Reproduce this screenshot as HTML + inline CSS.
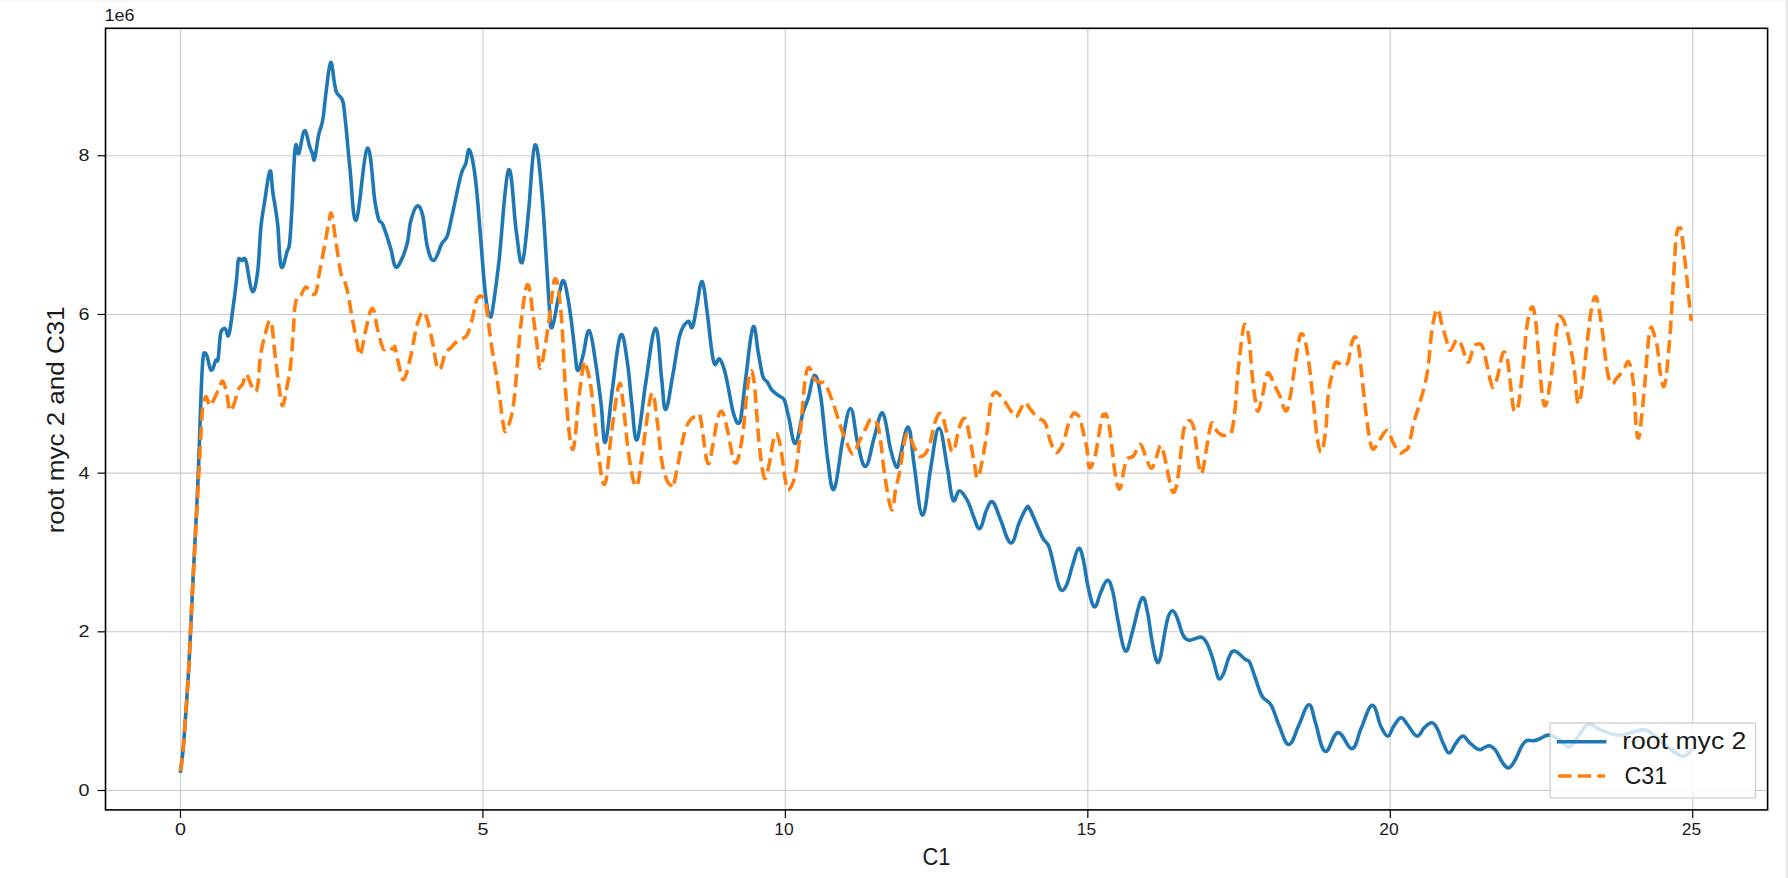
<!DOCTYPE html>
<html><head><meta charset="utf-8"><style>
html,body{margin:0;padding:0;background:#fff;width:1788px;height:878px;overflow:hidden}
svg{display:block}
text{font-family:"Liberation Sans",sans-serif;fill:#1a1a1a}
</style></head><body>
<svg width="1788" height="878" viewBox="0 0 1788 878">
<rect x="0" y="0" width="1788" height="878" fill="#fff"/>
<defs><linearGradient id="rg" x1="0" x2="1" y1="0" y2="0"><stop offset="0" stop-color="#fcfcfc"/><stop offset="0.55" stop-color="#efefef"/><stop offset="1" stop-color="#dcdcdc"/></linearGradient></defs>
<rect x="0" y="0" width="1788" height="1.1" fill="#f4f4f4"/>
<rect x="1784.4" y="0" width="3.6" height="878" fill="url(#rg)"/>

<g stroke="#cbcbcb" stroke-width="1.1"><line x1="180.50" y1="28.3" x2="180.50" y2="809.9"/><line x1="482.94" y1="28.3" x2="482.94" y2="809.9"/><line x1="785.38" y1="28.3" x2="785.38" y2="809.9"/><line x1="1087.82" y1="28.3" x2="1087.82" y2="809.9"/><line x1="1390.26" y1="28.3" x2="1390.26" y2="809.9"/><line x1="1692.70" y1="28.3" x2="1692.70" y2="809.9"/><line x1="105.5" y1="790.50" x2="1767.6" y2="790.50"/><line x1="105.5" y1="631.82" x2="1767.6" y2="631.82"/><line x1="105.5" y1="473.14" x2="1767.6" y2="473.14"/><line x1="105.5" y1="314.46" x2="1767.6" y2="314.46"/><line x1="105.5" y1="155.78" x2="1767.6" y2="155.78"/></g>
<path d="M180.5,771.0C181.0,766.7 182.2,760.8 183.5,745.0C184.8,729.2 187.1,695.5 188.3,676.0C189.5,656.5 189.9,644.0 190.7,628.0C191.5,612.0 191.8,604.7 193.0,580.0C194.2,555.3 196.5,515.1 198.0,480.0C199.5,444.9 200.9,390.4 202.2,369.3C203.5,348.2 204.0,353.2 205.8,353.4C207.6,353.6 209.0,368.7 211.0,370.1C213.0,371.5 214.5,362.4 215.7,360.5C216.9,358.6 217.3,363.3 218.1,358.9C218.9,354.5 219.6,339.2 220.5,334.2C221.4,329.1 222.6,329.4 223.7,328.6C224.8,327.8 225.2,328.9 226.0,330.0C226.8,331.1 227.5,338.6 228.8,335.0C230.1,331.4 231.2,321.1 232.5,311.9C233.8,302.7 235.6,288.3 236.5,280.0C237.4,271.7 237.5,265.6 238.0,262.0C238.5,258.4 238.7,258.8 239.5,258.5C240.3,258.2 240.8,260.5 241.8,260.5C242.8,260.5 243.4,258.0 244.3,258.5C245.2,259.0 245.2,257.5 246.5,263.0C247.8,268.5 250.2,289.7 252.4,291.4C254.6,293.1 256.3,282.3 257.7,271.6C259.1,260.9 259.7,238.9 260.9,227.0C262.1,215.1 263.4,209.2 264.9,199.9C266.4,190.6 268.4,172.6 270.0,171.0C271.6,169.4 271.5,183.1 272.8,191.9C274.1,200.7 276.2,211.4 277.6,223.8C279.0,236.2 279.2,261.1 281.1,266.5C283.0,271.9 285.8,254.9 287.2,251.0C288.6,247.1 288.8,250.2 289.6,243.0C290.4,235.8 291.1,223.6 292.0,207.8C292.9,192.0 293.8,158.9 295.2,148.0C296.6,137.1 297.1,156.6 298.9,153.2C300.7,149.8 302.2,132.0 304.4,130.8C306.6,129.6 308.4,143.2 309.8,147.0C311.2,150.8 311.8,151.9 312.6,153.9C313.4,155.9 313.4,162.8 314.6,159.0C315.8,155.2 317.3,141.2 318.7,134.7C320.1,128.1 321.6,127.0 322.8,119.7C324.1,112.4 324.9,100.5 326.2,91.0C327.5,81.5 329.0,64.1 330.6,62.5C332.2,60.9 333.4,77.8 334.4,82.8C335.4,87.8 335.5,90.0 336.5,92.4C337.5,94.8 339.5,95.4 340.6,97.2C341.7,99.0 342.4,98.4 343.3,103.3C344.2,108.2 344.9,115.4 346.0,126.5C347.1,137.6 348.4,154.4 350.1,170.0C351.8,185.6 352.9,224.3 356.3,220.0C359.7,215.7 363.5,152.3 367.2,148.4C370.9,144.5 372.9,188.7 374.8,200.6C376.7,212.5 377.5,215.7 378.8,219.7C380.1,223.7 380.8,219.7 382.8,224.5C384.8,229.3 388.6,241.4 390.7,248.5C392.8,255.6 393.3,264.7 395.5,266.8C397.7,268.9 399.9,262.9 401.9,258.8C403.9,254.7 406.0,248.3 407.5,242.1C409.0,235.8 409.1,227.3 410.7,221.3C412.3,215.3 414.6,207.5 417.0,206.2C419.4,204.9 420.9,208.2 422.6,215.0C424.3,221.8 425.5,239.3 427.4,246.9C429.3,254.5 430.9,261.0 433.8,260.4C436.7,259.8 439.5,247.8 441.8,243.7C444.1,239.6 445.5,241.0 447.4,235.7C449.2,230.4 450.6,221.9 452.9,211.8C455.1,201.7 458.8,183.1 460.9,175.1C463.0,167.1 464.2,168.0 465.7,163.9C467.2,159.8 467.6,146.2 469.7,150.4C471.8,154.6 473.7,163.1 476.1,184.7C478.5,206.3 482.1,259.3 484.0,280.0C485.9,300.7 486.5,302.9 487.5,309.0C488.5,315.1 489.0,316.3 490.0,316.5C491.0,316.7 491.0,319.2 492.5,310.0C494.0,300.8 496.3,284.5 499.0,261.2C501.7,237.9 505.1,176.5 508.5,170.1C511.9,163.7 513.7,213.9 516.0,229.3C518.3,244.7 519.7,266.0 522.2,262.4C524.7,258.8 526.5,230.7 528.6,211.1C530.7,191.5 532.3,147.7 535.0,145.0C537.7,142.3 539.9,171.2 542.2,197.4C544.5,223.6 547.4,280.5 549.0,302.2C550.6,323.9 550.0,329.1 552.0,327.5C554.0,325.9 557.1,301.8 559.1,294.2C561.1,286.6 561.8,277.5 564.1,281.6C566.4,285.7 568.7,302.7 570.5,314.7C572.3,326.7 573.9,344.1 575.1,353.4C576.3,362.7 576.2,370.0 577.8,370.5C579.4,371.0 581.1,362.3 583.0,355.7C584.9,349.1 586.7,329.2 589.2,330.6C591.7,332.0 593.6,350.0 595.6,362.5C597.6,375.0 599.7,392.6 601.3,405.8C602.9,419.1 603.1,445.6 605.4,442.0C607.7,438.4 610.1,405.4 612.6,387.6C615.1,369.8 617.6,340.2 620.6,335.2C623.6,330.2 625.5,350.7 627.4,362.5C629.3,374.3 630.4,393.0 632.0,405.8C633.6,418.6 634.5,444.1 637.2,439.5C639.9,434.9 642.7,401.5 645.7,383.0C648.8,364.5 652.3,329.2 655.5,328.3C658.7,327.4 659.9,365.0 661.6,378.5C663.3,392.0 663.4,410.4 665.7,409.5C668.0,408.6 670.6,386.3 673.0,373.9C675.4,361.5 677.3,343.9 679.8,335.2C682.3,326.5 685.3,323.1 687.8,321.5C690.3,319.9 690.6,330.4 692.4,327.2C694.2,324.0 695.3,313.2 696.9,305.6C698.5,298.0 700.1,280.2 702.2,281.6C704.3,283.0 705.3,299.1 707.2,312.4C709.1,325.7 711.1,352.1 713.6,361.4C716.1,370.7 717.3,356.6 719.7,359.1C722.1,361.6 723.3,365.7 725.4,373.9C727.5,382.1 730.6,400.7 732.2,408.1C733.8,415.5 734.2,416.0 735.2,418.5C736.2,421.0 736.9,423.6 738.1,423.3C739.3,423.0 739.7,424.7 741.0,417.0C742.3,409.3 743.9,391.9 745.9,377.0C747.9,362.1 750.5,332.2 753.0,327.3C755.5,322.4 756.6,344.2 758.2,352.4C759.8,360.6 761.3,371.4 762.8,376.3C764.3,381.2 765.8,379.7 767.3,382.0C768.8,384.3 770.0,387.7 771.9,390.0C773.8,392.3 776.6,394.0 778.7,395.7C780.8,397.4 782.7,396.4 784.4,400.2C786.1,404.0 787.2,411.3 789.0,418.5C790.8,425.7 792.7,444.4 795.4,443.5C798.1,442.6 800.5,421.5 802.6,413.9C804.8,406.3 806.3,404.3 808.3,397.9C810.3,391.4 812.2,375.2 814.7,375.2C817.2,375.2 818.7,383.8 820.9,397.9C823.1,411.9 825.5,444.3 827.7,459.5C829.9,474.7 831.1,492.8 834.1,489.1C837.1,485.4 839.8,454.6 842.5,441.2C845.2,427.8 847.5,408.5 850.5,408.5C853.5,408.5 854.8,431.5 857.3,441.2C859.8,450.9 862.2,467.4 865.6,466.5C869.0,465.6 871.5,445.6 874.4,436.7C877.2,427.8 879.5,410.9 882.7,413.2C885.9,415.5 888.0,439.1 890.3,448.1C892.6,457.1 894.4,465.0 896.3,467.0C898.2,469.0 898.0,464.5 900.0,457.9C902.0,451.2 905.3,425.5 908.2,427.1C911.1,428.7 911.9,451.4 914.3,466.1C916.7,480.8 919.2,514.8 922.5,515.2C925.8,515.6 928.0,482.6 930.7,468.1C933.4,453.6 935.6,428.6 938.9,428.2C942.2,427.8 944.8,454.2 947.1,466.1C949.4,478.1 950.4,495.0 952.9,499.9C955.4,504.8 956.5,490.5 959.4,490.7C962.3,490.9 965.2,496.5 967.6,500.9C970.0,505.3 971.8,512.7 973.8,517.3C975.8,521.9 977.4,529.8 979.9,528.6C982.4,527.4 984.0,515.6 986.1,511.1C988.2,506.7 989.7,500.3 992.6,501.9C995.5,503.5 997.4,512.5 1000.4,519.3C1003.4,526.1 1007.0,542.1 1010.7,542.9C1014.4,543.7 1016.4,529.1 1018.9,523.4C1021.4,517.7 1023.8,511.5 1026.0,508.7C1028.2,505.9 1027.3,504.8 1030.0,509.5C1032.7,514.2 1039.2,531.1 1042.3,537.1C1045.4,543.1 1046.7,541.5 1048.4,545.3C1050.1,549.1 1051.0,553.6 1052.5,559.7C1054.0,565.9 1056.2,577.1 1057.7,582.2C1059.2,587.3 1060.0,590.0 1061.8,590.4C1063.6,590.8 1065.0,588.7 1066.9,584.3C1068.8,579.9 1071.0,569.8 1073.0,563.8C1075.0,557.8 1076.5,549.2 1078.6,548.4C1080.7,547.6 1081.7,553.0 1083.3,559.7C1084.9,566.4 1086.5,580.5 1088.4,588.4C1090.3,596.2 1092.0,606.0 1094.5,606.8C1097.0,607.6 1098.5,596.9 1100.7,592.5C1102.9,588.1 1105.0,580.2 1107.5,580.2C1110.0,580.2 1111.2,585.7 1113.0,592.5C1114.8,599.3 1116.0,611.4 1118.1,621.1C1120.1,630.8 1122.4,648.8 1125.3,650.9C1128.2,653.0 1129.8,640.1 1132.5,631.4C1135.2,622.6 1138.8,602.4 1141.8,598.4C1144.8,594.4 1145.7,604.9 1147.3,611.4C1148.9,617.9 1150.1,630.0 1151.4,637.4C1152.7,644.8 1153.9,651.8 1155.0,656.0C1156.1,660.2 1156.8,662.8 1158.0,662.6C1159.2,662.4 1160.2,658.3 1161.0,655.0C1161.8,651.7 1161.9,648.9 1163.0,642.8C1164.1,636.7 1166.2,623.6 1167.8,618.3C1169.4,612.9 1170.7,610.7 1172.6,610.7C1174.5,610.7 1175.6,614.3 1177.3,618.3C1179.0,622.3 1181.0,631.0 1182.8,634.6C1184.6,638.2 1185.8,639.3 1188.3,640.1C1190.8,640.9 1192.8,639.2 1195.1,638.7C1197.4,638.2 1199.4,636.3 1201.9,637.4C1204.4,638.5 1205.6,640.6 1207.4,644.2C1209.2,647.8 1211.3,654.2 1212.9,659.2C1214.5,664.2 1215.9,671.0 1217.0,674.3C1218.1,677.6 1218.3,679.3 1219.7,679.0C1221.1,678.7 1222.2,676.6 1223.8,672.9C1225.4,669.1 1227.5,660.1 1229.3,656.5C1231.1,652.9 1231.6,650.5 1234.7,651.0C1237.8,651.5 1242.5,657.3 1245.0,659.2C1247.5,661.1 1248.0,659.2 1249.7,662.3C1251.4,665.4 1253.2,672.4 1255.3,678.0C1257.4,683.6 1259.4,691.7 1262.1,696.2C1264.8,700.8 1268.4,700.4 1271.3,705.3C1274.2,710.2 1276.3,719.3 1279.2,725.8C1282.1,732.3 1284.9,744.5 1288.8,744.5C1292.7,744.5 1295.3,732.4 1298.6,725.8C1301.9,719.2 1305.4,705.3 1308.8,704.8C1312.2,704.3 1313.0,715.8 1315.7,723.5C1318.4,731.2 1320.7,749.5 1325.2,751.3C1329.7,753.1 1332.6,733.1 1338.0,732.6C1343.4,732.1 1347.5,749.5 1352.1,748.6C1356.7,747.7 1357.8,735.3 1361.2,728.1C1364.6,720.9 1368.3,705.8 1372.2,705.3C1376.1,704.8 1378.0,720.7 1380.6,725.8C1383.2,730.9 1385.2,735.9 1387.7,736.1C1390.2,736.3 1391.1,730.0 1393.3,726.9C1395.5,723.8 1398.1,718.1 1401.0,717.7C1403.9,717.3 1405.0,721.8 1407.7,724.9C1410.4,728.0 1413.6,735.5 1416.9,736.1C1420.2,736.7 1421.6,730.1 1424.1,727.9C1426.6,725.7 1429.1,722.6 1431.8,722.8C1434.5,723.0 1435.4,725.4 1437.4,729.0C1439.4,732.6 1441.6,740.3 1443.6,744.3C1445.6,748.3 1446.8,753.2 1449.2,753.0C1451.6,752.8 1453.5,746.1 1455.8,743.3C1458.1,740.5 1460.1,736.3 1462.8,736.1C1465.5,735.9 1466.6,740.1 1469.2,742.3C1471.8,744.5 1475.3,748.4 1478.4,749.4C1481.5,750.4 1482.6,748.0 1484.6,747.4C1486.6,746.8 1488.0,745.3 1490.2,745.9C1492.4,746.5 1493.8,747.9 1495.8,750.5C1497.8,753.1 1499.9,758.9 1502.0,761.8C1504.1,764.7 1505.9,768.3 1508.6,767.9C1511.3,767.5 1513.1,763.3 1515.3,759.7C1517.5,756.1 1519.6,749.6 1521.5,746.4C1523.4,743.2 1524.5,741.7 1526.6,740.7C1528.6,739.8 1531.6,741.0 1533.8,740.7C1536.0,740.4 1537.4,739.6 1539.9,738.7C1542.5,737.8 1545.1,734.8 1549.1,735.1C1553.1,735.4 1556.7,738.1 1560.0,740.1C1563.3,742.1 1565.5,747.6 1569.1,746.9C1572.7,746.2 1575.0,740.1 1578.2,736.4C1581.4,732.7 1583.6,725.9 1588.2,724.6C1592.8,723.3 1596.1,728.4 1601.0,730.1C1605.9,731.9 1611.4,734.6 1617.4,735.1C1623.4,735.6 1626.7,733.7 1631.1,732.8C1635.5,731.9 1639.6,729.4 1643.8,729.6C1648.0,729.8 1648.5,731.2 1652.0,733.7C1655.5,736.2 1659.8,740.9 1664.8,744.6C1669.8,748.3 1676.7,755.0 1682.1,756.0C1687.5,757.0 1690.1,750.8 1691.7,749.7" fill="none" stroke="#1f77b4" stroke-width="3.6" stroke-linejoin="round" stroke-linecap="square"/>
<path d="M180.5,771.0C181.0,766.7 182.2,760.8 183.5,745.0C184.8,729.2 187.1,695.5 188.3,676.0C189.5,656.5 189.9,644.0 190.7,628.0C191.5,612.0 191.8,603.0 193.0,580.0C194.2,557.0 196.5,517.9 198.0,490.0C199.5,462.1 201.0,427.8 202.2,412.4C203.4,397.0 204.3,400.0 205.4,397.5C206.5,395.0 206.7,398.6 207.5,400.0C208.3,401.4 208.9,406.2 210.2,406.0C211.5,405.8 212.6,401.7 214.1,398.8C215.6,395.9 217.4,391.4 218.9,388.5C220.4,385.6 221.3,380.0 222.9,381.3C224.5,382.6 225.7,389.9 226.9,394.8C228.1,399.7 228.5,409.5 230.1,410.8C231.7,412.1 233.6,404.7 234.9,401.2C236.2,397.7 236.8,392.9 238.1,390.0C239.4,387.1 241.5,386.3 242.8,383.7C244.1,381.1 244.6,374.4 246.0,374.1C247.4,373.8 248.5,379.2 250.0,382.1C251.5,385.0 253.2,391.3 254.8,391.6C256.4,391.9 257.1,389.5 258.0,383.7C258.9,377.9 259.2,364.9 260.4,356.6C261.6,348.4 263.5,340.1 265.2,334.2C266.9,328.3 268.8,317.3 270.8,321.5C272.8,325.7 273.7,344.0 275.1,355.4C276.5,366.8 278.2,381.3 279.4,389.6C280.5,397.9 281.0,402.9 282.0,405.0C283.0,407.1 283.6,403.1 284.5,400.0C285.4,396.9 286.1,391.9 287.1,386.2C288.1,380.5 289.5,374.2 290.5,365.7C291.5,357.1 292.4,344.6 293.1,334.9C293.8,325.2 294.1,313.9 294.8,307.6C295.5,301.3 296.3,299.3 297.3,297.3C298.3,295.3 299.4,297.3 300.8,295.6C302.2,293.9 303.7,287.4 305.9,287.1C308.1,286.8 309.9,292.9 311.9,293.9C313.9,294.9 315.0,295.0 316.1,292.2C317.2,289.4 317.3,284.6 318.7,276.8C320.1,269.0 322.9,254.6 324.6,245.5C326.3,236.4 327.8,227.2 329.0,222.0C330.2,216.8 330.3,210.7 331.6,214.1C332.9,217.5 333.9,229.1 335.5,239.0C337.1,248.9 339.5,266.8 340.9,273.6C342.3,280.5 343.0,277.2 344.1,280.1C345.2,283.0 345.9,284.0 347.4,290.9C348.8,297.8 351.2,312.5 352.8,321.2C354.4,329.9 355.9,337.3 357.1,342.9C358.4,348.5 358.6,357.4 360.3,354.8C362.0,352.2 363.8,337.7 365.8,329.9C367.8,322.1 369.9,308.2 372.3,308.2C374.7,308.2 375.9,323.2 377.7,329.9C379.5,336.6 381.2,344.8 383.1,348.3C385.0,351.8 385.2,347.0 387.4,347.2C389.6,347.4 392.4,349.4 393.9,349.4C395.4,349.4 394.0,344.3 395.0,347.4C396.0,350.5 397.4,359.6 398.9,364.9C400.3,370.2 401.4,381.0 403.7,379.4C406.0,377.8 408.4,365.7 410.5,357.1C412.6,348.6 414.4,335.5 416.3,328.1C418.2,320.7 420.0,314.5 422.1,312.6C424.2,310.7 425.2,313.2 427.0,318.4C428.8,323.6 431.2,335.9 432.8,343.6C434.4,351.4 435.3,360.7 436.6,364.9C437.9,369.1 438.8,371.0 440.5,368.7C442.2,366.4 443.5,356.9 445.3,353.3C447.1,349.8 448.8,349.7 451.1,347.4C453.4,345.1 456.3,341.6 458.9,339.7C461.5,337.8 464.4,339.4 466.6,335.8C468.9,332.2 470.8,324.2 472.4,318.4C474.0,312.6 475.0,304.7 476.3,301.0C477.6,297.3 478.5,296.1 480.2,296.1C481.9,296.1 483.7,297.3 485.0,301.0C486.3,304.7 486.8,310.7 487.9,318.4C489.0,326.1 490.5,338.7 491.8,347.4C493.1,356.1 494.4,362.6 495.7,370.7C497.0,378.8 498.2,386.8 499.5,395.8C500.8,404.8 502.2,419.3 503.4,424.9C504.6,430.5 504.8,434.1 506.9,429.5C509.0,424.9 511.5,419.2 513.8,402.1C516.1,385.0 518.3,346.6 520.6,327.0C522.9,307.4 524.9,287.1 527.4,284.8C529.9,282.5 531.4,304.8 533.1,315.6C534.8,326.4 536.4,341.2 537.7,349.7C539.0,358.2 538.8,372.7 541.1,366.8C543.4,360.9 546.8,334.8 549.1,320.1C551.5,305.4 552.7,279.1 555.2,278.5C557.7,277.9 559.6,297.3 561.4,317.0C563.2,336.7 564.1,374.6 566.0,396.7C567.9,418.8 570.0,448.6 572.5,449.5C575.0,450.4 576.8,414.9 578.5,401.2C580.2,387.5 581.9,373.4 583.0,367.1C584.1,360.8 583.7,359.5 585.3,363.6C586.9,367.7 588.9,373.4 591.0,387.6C593.1,401.9 595.5,433.0 597.8,449.1C600.1,465.2 602.0,487.3 604.7,484.1C607.4,480.9 609.1,449.6 611.5,433.1C613.9,416.6 616.5,391.7 618.8,385.3C621.1,378.9 621.3,389.8 622.9,401.2C624.5,412.6 626.4,439.4 628.6,453.6C630.8,467.8 633.4,486.4 636.1,486.4C638.8,486.4 639.8,468.9 642.3,453.6C644.8,438.3 648.5,401.2 651.4,394.4C654.3,387.6 655.3,408.6 657.0,419.5C658.7,430.4 660.1,450.2 661.6,460.0C663.1,469.8 664.7,474.3 666.2,478.5C667.7,482.7 669.1,484.4 670.7,485.3C672.3,486.2 671.8,491.7 674.1,483.0C676.4,474.3 681.5,443.5 684.4,432.9C687.2,422.3 689.1,422.0 691.2,419.2C693.3,416.4 695.4,416.9 696.9,416.3C698.4,415.7 698.7,411.8 700.0,415.8C701.3,419.8 701.9,428.5 703.2,436.5C704.5,444.5 706.1,461.7 708.0,463.6C709.9,465.5 711.1,453.5 712.7,446.1C714.3,438.7 715.9,424.7 717.5,419.0C719.1,413.3 720.4,409.9 722.3,411.8C724.2,413.7 725.6,422.3 727.1,428.5C728.6,434.7 729.9,443.6 731.1,449.2C732.3,454.8 732.9,460.1 734.3,462.0C735.7,463.9 736.8,463.9 738.2,458.8C739.7,453.8 741.5,442.9 743.0,431.7C744.5,420.5 745.7,402.0 747.0,391.9C748.3,381.8 749.3,373.1 750.7,371.2C752.1,369.3 753.2,375.4 754.2,382.3C755.2,389.2 755.7,401.5 756.6,412.6C757.5,423.8 758.5,438.3 759.8,449.2C761.1,460.1 762.6,475.0 764.5,477.9C766.4,480.8 767.6,470.8 769.3,463.6C771.0,456.4 772.8,438.8 774.9,434.9C777.0,431.0 778.2,436.5 780.0,444.2C781.8,451.9 784.0,473.4 785.5,481.0C787.0,488.6 786.8,491.0 788.7,489.7C790.6,488.4 793.2,484.6 795.2,474.5C797.2,464.4 799.0,444.5 800.6,429.0C802.2,413.5 803.5,391.7 804.9,381.4C806.3,371.1 806.8,367.8 808.8,367.4C810.8,367.0 812.6,376.8 814.7,379.3C816.8,381.8 819.4,381.7 821.2,382.5C823.0,383.3 823.5,380.6 825.5,384.0C827.5,387.4 830.7,396.3 833.1,403.1C835.5,409.9 838.0,418.8 840.0,424.7C842.0,430.6 842.9,433.4 845.0,438.3C847.1,443.2 849.9,453.2 852.6,454.0C855.3,454.8 856.5,446.6 858.7,442.4C860.9,438.2 863.6,432.6 865.6,428.7C867.6,424.8 868.7,420.1 871.0,419.2C873.3,418.3 875.6,420.4 877.2,424.0C878.8,427.6 879.4,432.5 880.6,441.0C881.9,449.5 882.9,463.8 884.7,475.2C886.5,486.6 889.4,506.9 891.6,509.6C893.8,512.3 894.3,495.5 895.7,488.9C897.1,482.3 898.6,477.8 900.0,470.2C901.4,462.6 902.7,449.6 904.1,443.5C905.5,437.4 906.2,432.5 908.2,433.3C910.2,434.1 912.2,443.7 914.3,447.6C916.3,451.5 917.6,456.8 920.5,456.8C923.4,456.8 926.3,453.2 928.7,447.6C931.1,442.0 932.8,428.6 934.8,423.0C936.8,417.4 938.5,411.7 941.0,413.8C943.5,415.9 945.1,427.0 947.1,433.3C949.1,439.6 950.4,452.9 952.9,451.7C955.4,450.5 957.3,432.6 959.4,427.1C961.5,421.6 963.1,416.8 965.2,418.9C967.3,421.0 968.1,429.5 969.7,437.4C971.3,445.3 973.5,459.3 974.8,466.1C976.1,472.9 976.1,478.8 977.5,478.0C978.9,477.2 980.4,469.8 982.0,462.0C983.6,454.2 985.6,441.4 987.1,431.2C988.6,420.9 989.8,407.0 991.2,400.5C992.6,394.0 993.0,392.7 995.3,392.3C997.6,391.9 999.9,395.3 1002.5,398.4C1005.1,401.5 1008.5,407.6 1010.7,410.7C1012.9,413.8 1013.8,417.3 1015.8,416.9C1017.8,416.5 1019.4,411.1 1020.9,408.7C1022.4,406.3 1023.2,402.5 1025.0,402.5C1026.8,402.5 1027.9,406.3 1030.0,408.8C1032.1,411.3 1035.0,415.3 1037.5,417.6C1040.0,419.9 1042.9,418.9 1045.0,422.6C1047.1,426.4 1048.6,435.7 1050.0,440.1C1051.4,444.5 1052.5,446.9 1053.5,449.0C1054.5,451.1 1055.1,452.5 1056.3,452.7C1057.5,452.9 1058.2,451.9 1059.5,450.0C1060.8,448.1 1062.2,446.0 1063.8,441.4C1065.3,436.8 1067.2,427.2 1068.8,422.6C1070.4,418.0 1071.6,415.4 1073.2,413.8C1074.8,412.2 1075.8,413.7 1077.0,414.5C1078.2,415.3 1078.9,415.4 1080.1,418.8C1081.2,422.2 1082.8,430.1 1083.9,435.1C1085.1,440.1 1086.1,443.5 1087.0,448.9C1087.9,454.3 1087.9,466.4 1089.5,467.7C1091.1,469.0 1093.7,460.2 1095.2,455.2C1096.7,450.2 1097.3,443.5 1098.3,437.6C1099.3,431.8 1100.6,424.0 1101.4,420.1C1102.2,416.2 1102.4,415.3 1103.0,414.5C1103.6,413.7 1103.9,416.0 1104.5,416.0C1105.1,416.0 1105.3,412.7 1106.2,414.5C1107.1,416.3 1108.0,419.4 1109.0,425.1C1110.0,430.8 1111.1,440.8 1112.1,448.9C1113.1,457.0 1114.0,467.3 1115.2,474.0C1116.5,480.7 1117.8,489.9 1119.6,489.0C1121.4,488.1 1122.8,474.5 1124.0,469.5C1125.2,464.5 1125.2,461.5 1126.8,459.2C1128.4,456.9 1131.5,458.3 1133.7,455.8C1135.9,453.3 1137.6,444.6 1139.9,444.4C1142.2,444.2 1143.2,450.7 1145.1,454.7C1147.0,458.7 1149.0,467.9 1151.3,468.3C1153.6,468.7 1154.8,460.7 1156.4,456.9C1158.0,453.1 1159.2,444.7 1161.0,445.6C1162.8,446.5 1164.3,456.0 1165.6,461.5C1166.9,467.0 1167.8,473.5 1169.0,478.6C1170.2,483.7 1171.4,491.4 1173.0,492.3C1174.6,493.2 1175.8,489.0 1177.0,483.1C1178.2,477.2 1179.3,465.8 1180.4,456.9C1181.5,448.0 1182.3,435.7 1183.8,429.6C1185.3,423.5 1187.5,420.7 1189.5,420.5C1191.5,420.3 1192.9,424.3 1194.0,428.5C1195.1,432.7 1195.5,439.7 1196.3,445.6C1197.1,451.5 1197.6,459.2 1198.6,463.8C1199.5,468.4 1200.4,476.1 1202.0,472.9C1203.6,469.7 1205.3,455.2 1206.6,447.8C1207.9,440.4 1209.0,432.7 1210.0,428.5C1211.0,424.3 1211.4,422.3 1212.8,422.8C1214.2,423.3 1215.2,428.7 1216.8,430.8C1218.4,432.9 1220.3,434.6 1222.5,435.3C1224.7,436.0 1226.5,435.1 1228.0,434.5C1229.5,433.9 1230.5,435.6 1231.7,431.4C1232.9,427.2 1234.1,418.5 1235.1,409.1C1236.1,399.7 1236.7,385.8 1237.7,375.0C1238.7,364.2 1240.0,352.6 1241.1,344.2C1242.2,335.8 1243.0,325.9 1244.5,324.5C1246.0,323.1 1247.5,329.0 1248.8,337.4C1250.1,345.8 1251.1,364.2 1252.2,375.0C1253.3,385.8 1254.6,396.3 1255.6,402.3C1256.6,408.3 1256.8,412.3 1258.2,410.9C1259.6,409.5 1261.2,400.9 1262.5,395.5C1263.8,390.1 1264.8,382.1 1265.9,378.4C1267.0,374.7 1267.3,371.8 1269.0,373.2C1270.7,374.6 1272.6,381.5 1274.4,385.2C1276.2,388.9 1277.7,391.2 1279.6,395.5C1281.5,399.8 1283.6,410.2 1285.6,410.9C1287.6,411.6 1288.2,406.6 1289.8,398.9C1291.4,391.2 1293.6,373.8 1295.0,364.7C1296.4,355.6 1297.4,349.3 1298.4,344.2C1299.4,339.1 1299.5,334.6 1300.9,333.9C1302.3,333.2 1303.8,335.1 1305.2,340.8C1306.6,346.5 1308.1,357.3 1309.5,368.1C1310.9,378.9 1312.5,394.0 1313.8,405.7C1315.1,417.4 1315.9,430.5 1317.2,438.2C1318.5,445.9 1319.8,453.6 1321.5,451.9C1323.2,450.2 1324.5,439.4 1325.7,429.7C1326.9,419.9 1327.2,403.1 1328.4,393.4C1329.6,383.6 1331.6,376.3 1332.7,371.2C1333.8,366.1 1333.9,364.2 1335.2,362.7C1336.5,361.2 1337.7,362.9 1339.0,363.5C1340.3,364.1 1341.1,366.4 1342.9,366.1C1344.7,365.8 1346.7,365.5 1348.1,361.8C1349.5,358.1 1350.2,348.0 1351.5,343.9C1352.8,339.8 1354.2,335.7 1355.7,337.1C1357.2,338.5 1358.2,344.4 1359.2,350.7C1360.2,357.0 1360.7,365.6 1361.7,374.7C1362.7,383.8 1363.9,395.7 1365.1,405.4C1366.2,415.1 1367.3,425.4 1368.6,432.7C1369.9,439.9 1370.6,447.5 1372.8,448.9C1375.0,450.3 1377.3,442.7 1379.7,439.6C1382.1,436.5 1384.7,429.9 1387.3,430.2C1389.9,430.5 1390.5,437.6 1392.5,441.3C1394.5,445.0 1397.0,450.5 1399.3,452.4C1401.6,454.3 1402.4,452.0 1404.0,451.0C1405.6,450.0 1407.1,451.1 1408.7,446.4C1410.3,441.6 1411.8,430.2 1413.8,422.5C1415.8,414.8 1418.3,408.9 1420.6,400.3C1422.9,391.8 1425.6,383.2 1427.5,371.2C1429.4,359.2 1430.5,338.8 1432.2,328.5C1433.9,318.2 1435.5,310.1 1437.4,309.2C1439.3,308.3 1440.1,318.1 1441.8,324.0C1443.5,329.9 1446.3,340.5 1447.8,344.8C1449.3,349.1 1448.6,351.0 1450.7,350.0C1452.8,349.0 1455.1,338.3 1458.1,339.6C1461.1,340.9 1463.7,352.9 1465.5,356.6C1467.3,360.3 1467.3,363.3 1468.8,361.8C1470.3,360.3 1471.5,352.2 1472.9,349.2C1474.3,346.2 1475.5,344.4 1477.4,344.0C1479.3,343.6 1480.9,342.9 1482.6,347.0C1484.3,351.1 1486.3,362.7 1487.7,368.5C1489.1,374.3 1489.7,378.7 1490.7,381.8C1491.7,384.9 1492.2,388.5 1493.7,387.0C1495.2,385.5 1496.8,379.5 1498.1,374.4C1499.4,369.3 1500.7,360.3 1501.8,356.6C1502.9,352.9 1503.6,351.3 1504.8,352.2C1506.0,353.1 1506.7,355.4 1507.7,361.1C1508.7,366.8 1509.8,378.8 1510.7,386.2C1511.6,393.6 1512.2,401.3 1512.9,405.5C1513.6,409.7 1513.9,412.0 1515.1,411.4C1516.3,410.8 1517.4,410.4 1518.8,402.5C1520.2,394.6 1521.9,376.8 1523.3,364.0C1524.7,351.2 1525.5,335.0 1527.0,325.5C1528.5,316.0 1530.3,307.6 1532.1,307.0C1533.9,306.4 1534.7,314.3 1535.8,322.6C1536.9,330.9 1537.4,342.8 1538.8,356.6C1540.2,370.4 1541.9,401.8 1544.4,405.5C1546.9,409.2 1549.1,388.0 1551.2,374.9C1553.3,361.8 1555.3,336.8 1556.9,327.1C1558.5,317.4 1558.6,315.6 1560.7,316.5C1562.8,317.4 1565.0,323.2 1567.2,331.6C1569.4,340.0 1572.0,355.1 1574.0,367.0C1576.0,378.9 1576.3,409.1 1579.1,403.0C1581.9,396.9 1585.8,352.0 1587.8,336.7C1589.8,321.4 1589.7,317.7 1591.1,311.1C1592.5,304.5 1593.9,294.4 1596.0,297.0C1598.1,299.6 1599.5,311.7 1601.4,324.0C1603.3,336.3 1605.5,360.8 1607.2,370.8C1609.0,380.8 1610.1,382.2 1611.9,383.8C1613.7,385.4 1614.6,380.7 1616.0,379.0C1617.4,377.3 1619.0,375.8 1620.5,373.8C1622.0,371.8 1623.6,368.9 1625.0,367.0C1626.4,365.1 1627.3,359.3 1629.0,362.4C1630.7,365.5 1632.1,371.9 1633.3,382.3C1634.5,392.8 1635.2,415.8 1636.1,425.1C1637.0,434.4 1637.5,439.4 1638.6,438.0C1639.7,436.6 1640.5,426.8 1641.5,418.0C1642.5,409.2 1643.7,396.5 1644.7,385.2C1645.7,373.9 1646.5,359.5 1647.5,350.0C1648.5,340.5 1649.1,331.4 1650.4,328.2C1651.7,325.0 1652.8,330.7 1654.0,334.0C1655.2,337.3 1656.4,341.5 1657.5,348.1C1658.6,354.7 1659.2,367.6 1660.4,373.8C1661.6,380.0 1662.9,390.3 1664.6,385.2C1666.3,380.1 1667.7,361.9 1668.9,348.1C1670.2,334.3 1671.0,319.6 1672.1,302.5C1673.2,285.4 1674.6,257.7 1675.5,245.6C1676.4,233.5 1676.8,232.8 1677.5,230.0C1678.2,227.2 1678.7,228.1 1679.5,228.5C1680.3,228.9 1680.5,225.4 1681.5,232.0C1682.5,238.6 1684.6,257.8 1685.8,268.3C1687.0,278.8 1687.6,286.2 1688.5,295.0C1689.4,303.8 1690.8,316.7 1691.2,321.0" fill="none" stroke="#ff7f0e" stroke-width="3.6" stroke-linejoin="round" stroke-dasharray="13.4 6.1"/>
<rect x="105.5" y="28.3" width="1662.10" height="781.60" fill="none" stroke="#000" stroke-width="1.6"/>
<g stroke="#000" stroke-width="1.2"><line x1="180.50" y1="809.9" x2="180.50" y2="817.9"/><line x1="482.94" y1="809.9" x2="482.94" y2="817.9"/><line x1="785.38" y1="809.9" x2="785.38" y2="817.9"/><line x1="1087.82" y1="809.9" x2="1087.82" y2="817.9"/><line x1="1390.26" y1="809.9" x2="1390.26" y2="817.9"/><line x1="1692.70" y1="809.9" x2="1692.70" y2="817.9"/><line x1="97.5" y1="790.50" x2="105.5" y2="790.50"/><line x1="97.5" y1="631.82" x2="105.5" y2="631.82"/><line x1="97.5" y1="473.14" x2="105.5" y2="473.14"/><line x1="97.5" y1="314.46" x2="105.5" y2="314.46"/><line x1="97.5" y1="155.78" x2="105.5" y2="155.78"/></g>
<g font-size="16.5"><text x="180.50" y="834.9" text-anchor="middle" textLength="11" lengthAdjust="spacingAndGlyphs">0</text><text x="482.94" y="834.9" text-anchor="middle" textLength="11" lengthAdjust="spacingAndGlyphs">5</text><text x="784.08" y="834.9" text-anchor="middle" textLength="19.4" lengthAdjust="spacingAndGlyphs">10</text><text x="1086.52" y="834.9" text-anchor="middle" textLength="19.4" lengthAdjust="spacingAndGlyphs">15</text><text x="1388.96" y="834.9" text-anchor="middle" textLength="19.4" lengthAdjust="spacingAndGlyphs">20</text><text x="1691.40" y="834.9" text-anchor="middle" textLength="19.4" lengthAdjust="spacingAndGlyphs">25</text><text x="89.6" y="796.00" text-anchor="end" textLength="11" lengthAdjust="spacingAndGlyphs">0</text><text x="89.6" y="637.32" text-anchor="end" textLength="11" lengthAdjust="spacingAndGlyphs">2</text><text x="89.6" y="478.64" text-anchor="end" textLength="11" lengthAdjust="spacingAndGlyphs">4</text><text x="89.6" y="319.96" text-anchor="end" textLength="11" lengthAdjust="spacingAndGlyphs">6</text><text x="89.6" y="161.28" text-anchor="end" textLength="11" lengthAdjust="spacingAndGlyphs">8</text><text x="104.6" y="21.4" textLength="30" lengthAdjust="spacingAndGlyphs">1e6</text></g>
<text x="936.4" y="864.6" font-size="24.6" text-anchor="middle" textLength="28" lengthAdjust="spacingAndGlyphs">C1</text>
<text transform="translate(64.1,419.8) rotate(-90)" x="0" y="0" font-size="24.6" text-anchor="middle" textLength="227" lengthAdjust="spacingAndGlyphs">root myc 2 and C31</text>
<rect x="1550.1" y="723" width="205.4" height="74.9" rx="2" fill="#fff" fill-opacity="0.8" stroke="#c6c6c6" stroke-opacity="0.8" stroke-width="1.4"/>
<line x1="1556.8" y1="741.8" x2="1606.4" y2="741.8" stroke="#1f77b4" stroke-width="3.6"/>
<line x1="1558.2" y1="776" x2="1605" y2="776" stroke="#ff7f0e" stroke-width="3.6" stroke-dasharray="13.4 6.1"/>
<text x="1622.2" y="748.9" font-size="24.6" textLength="124.2" lengthAdjust="spacingAndGlyphs">root myc 2</text>
<text x="1624.4" y="784" font-size="24.6" textLength="42.8" lengthAdjust="spacingAndGlyphs">C31</text>
</svg></body></html>
